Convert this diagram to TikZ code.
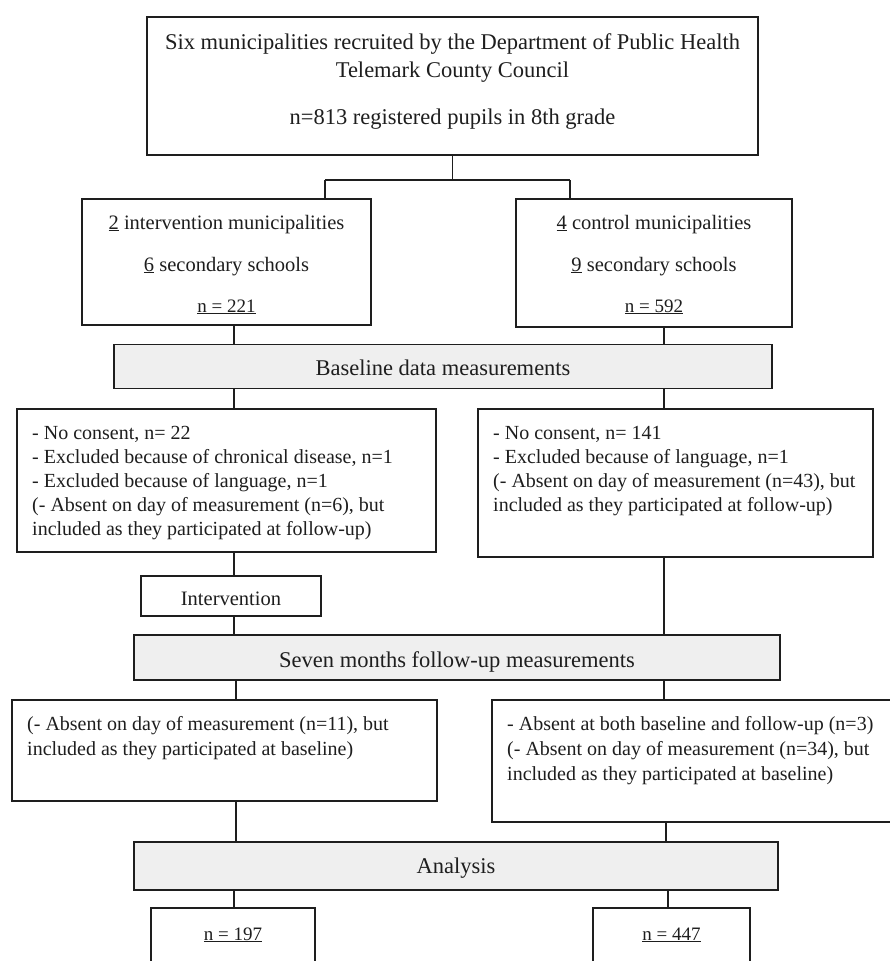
\documentclass[tikz,border=0pt]{standalone}
\usepackage{fontspec}
\setmainfont{Liberation Serif}
\definecolor{ink}{HTML}{1E1E1E}
\definecolor{boxgray}{HTML}{EFEFEF}
\begin{document}
\begin{tikzpicture}[x=1pt,y=-1pt,
  box/.style={draw=ink, line width=1.9pt, fill=white, inner sep=0pt},
  gbox/.style={box, fill=boxgray},
  conn/.style={draw=ink, line width=1.5pt},
  big/.style={font=\fontsize{22.5}{27}\selectfont, text=ink, inner sep=0pt, anchor=base},
  mid/.style={font=\fontsize{20.5}{24}\selectfont, text=ink, inner sep=0pt, anchor=base},
  nlab/.style={font=\fontsize{19}{23}\selectfont, text=ink, inner sep=0pt, anchor=base},
  sml/.style={font=\fontsize{20}{24}\selectfont, text=ink, inner sep=0pt, anchor=base west},
]
\useasboundingbox (0,0) rectangle (889,961);

% boxes
\node[box, minimum width=611pt, minimum height=138pt] (top) at (452.5,86) {};
\node[box, minimum width=289pt, minimum height=126pt] (left) at (226.5,262) {};
\node[box, minimum width=276pt, minimum height=128pt] (right) at (654,263) {};
\node[gbox, minimum width=658pt, minimum height=44pt] (base) at (443,366.5) {};
\node[box, minimum width=419pt, minimum height=143pt] (lowL) at (226.5,480.5) {};
\node[box, minimum width=395pt, minimum height=148pt] (lowR) at (675.5,483) {};
\node[box, minimum width=180pt, minimum height=40pt] (interv) at (231,596) {};
\node[gbox, minimum width=646pt, minimum height=45pt] (seven) at (457,657.5) {};
\node[box, minimum width=425pt, minimum height=101pt] (fuL) at (224.5,750.5) {};
\node[box, minimum width=408pt, minimum height=122pt] (fuR) at (696,761) {};
\node[gbox, minimum width=644pt, minimum height=48pt] (ana) at (456,866) {};
\node[box, minimum width=164pt, minimum height=72pt] (nL) at (233,944) {};
\node[box, minimum width=157pt, minimum height=72pt] (nR) at (671.5,944) {};

% connectors
\coordinate (split) at (453,180);
\coordinate (jl) at (325,180);
\coordinate (jr) at (570,180);
\coordinate (cl) at (234,0);
\coordinate (cr) at (664,0);
\coordinate (clb) at (236,0);
\coordinate (crb) at (666,0);
\coordinate (crc) at (668,0);
\draw[conn] (top.south) -- (top.south |- split);
\draw[conn] (jl) -- (jr);
\draw[conn] (jl) -- (jl |- left.north);
\draw[conn] (jr) -- (jr |- right.north);
\draw[conn] (left.south -| cl) -- (base.north -| cl);
\draw[conn] (right.south -| cr) -- (base.north -| cr);
\draw[conn] (base.south -| cl) -- (lowL.north -| cl);
\draw[conn] (base.south -| cr) -- (lowR.north -| cr);
\draw[conn] (lowL.south -| cl) -- (interv.north -| cl);
\draw[conn] (interv.south -| cl) -- (seven.north -| cl);
\draw[conn] (lowR.south -| cr) -- (seven.north -| cr);
\draw[conn] (seven.south -| clb) -- (fuL.north -| clb);
\draw[conn] (seven.south -| cr) -- (fuR.north -| cr);
\draw[conn] (fuL.south -| clb) -- (ana.north -| clb);
\draw[conn] (fuR.south -| crb) -- (ana.north -| crb);
\draw[conn] (ana.south -| cl) -- (nL.north -| cl);
\draw[conn] (ana.south -| crc) -- (nR.north -| crc);

% texts
\node[big] (t1) at (452.5,49.5) {Six municipalities recruited by the Department of Public Health};
\node[big] (t2) at (452.5,77.5) {Telemark County Council};
\node[big] (t3) at (452.5,124.5) {n=813 registered pupils in 8th grade};

\node[mid] (l1) at (226.5,229) {\underline{2} intervention municipalities};
\node[mid] (l2) at (226.5,271) {\underline{6} secondary schools};
\node[nlab] (l3) at (226.5,312) {\underline{n = 221}};
\node[mid] (r1) at (654,229) {\underline{4} control municipalities};
\node[mid] (r2) at (654,271) {\underline{9} secondary schools};
\node[nlab] (r3) at (654,312) {\underline{n = 592}};

\node[big] (bt) at (443,375.5) {Baseline data measurements};

\node[sml] (a1) at (32,439) {- No consent, n= 22};
\node[sml] (a2) at (32,463) {- Excluded because of chronical disease, n=1};
\node[sml] (a3) at (32,487) {- Excluded because of language, n=1};
\node[sml] (a4) at (32,511) {(- Absent on day of measurement (n=6), but};
\node[sml] (a5) at (32,535) {included as they participated at follow-up)};

\node[sml] (b1) at (493,439) {- No consent, n= 141};
\node[sml] (b2) at (493,463) {- Excluded because of language, n=1};
\node[sml] (b3) at (493,487) {(- Absent on day of measurement (n=43), but};
\node[sml] (b4) at (493,511) {included as they participated at follow-up)};

\node[mid] (it) at (231,605) {Intervention};
\node[big] (st) at (457,667.5) {Seven months follow-up measurements};

\node[sml] (c1) at (27,730) {(- Absent on day of measurement (n=11), but};
\node[sml] (c2) at (27,755) {included as they participated at baseline)};

\node[sml] (d1) at (507,730) {- Absent at both baseline and follow-up (n=3)};
\node[sml] (d2) at (507,755) {(- Absent on day of measurement (n=34), but};
\node[sml] (d3) at (507,780) {included as they participated at baseline)};

\node[big] (at) at (456,873.5) {Analysis};
\node[nlab] (n1) at (233,940) {\underline{n = 197}};
\node[nlab] (n2) at (671.5,940) {\underline{n = 447}};
\end{tikzpicture}
\end{document}
